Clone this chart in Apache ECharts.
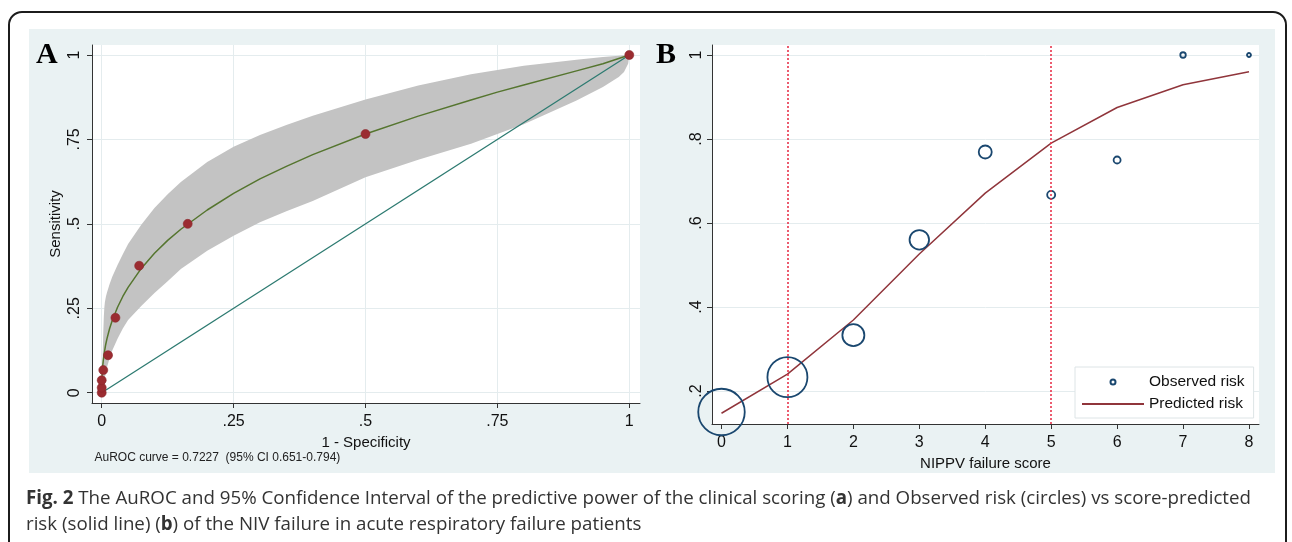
<!DOCTYPE html>
<html>
<head>
<meta charset="utf-8">
<script src="https://cdn.jsdelivr.net/npm/echarts@6/dist/echarts.min.js"></script>
<style>
html,body{margin:0;padding:0;background:#fff;}
#wrap{position:relative;width:1292px;height:542px;overflow:hidden;background:#fff;}
#frame{position:absolute;left:8px;top:11px;width:1279px;height:560px;border:2px solid #1c1c1c;border-radius:14px;box-sizing:border-box;}
#figbg{position:absolute;left:29px;top:28.5px;width:1246px;height:444.5px;background:#eaf2f3;}
#chart{position:absolute;left:0;top:0;width:1292px;height:542px;}
</style>
</head>
<body>
<div id="wrap">
<div id="frame"></div>
<div id="figbg"></div>
<div id="chart"></div>
</div>
<script>
// ---------- Panel A: ROC ----------
const rocFpr  = [0, 0, 0, 0.003, 0.012, 0.026, 0.071, 0.163, 0.5, 1];
const rocSens = [0, 0.015, 0.037, 0.067, 0.111, 0.222, 0.376, 0.5, 0.766, 1];

const fitFpr  = [0, 0.0005, 0.001, 0.002, 0.003, 0.005, 0.0075, 0.01, 0.015, 0.02, 0.03, 0.04, 0.05, 0.075, 0.1, 0.125, 0.15, 0.2, 0.25, 0.3, 0.35, 0.4, 0.5, 0.6, 0.7, 0.75, 0.8, 0.9, 0.95, 1];
const fitSens = [0, 0.044, 0.060, 0.081, 0.096, 0.119, 0.142, 0.160, 0.190, 0.214, 0.253, 0.285, 0.312, 0.368, 0.413, 0.451, 0.484, 0.541, 0.590, 0.633, 0.670, 0.705, 0.766, 0.819, 0.867, 0.890, 0.911, 0.953, 0.974, 1];

const bandFpr   = [0, 0.001, 0.002, 0.003, 0.004, 0.005, 0.006, 0.008, 0.01, 0.015, 0.02, 0.03, 0.04, 0.05, 0.075, 0.1, 0.125, 0.15, 0.2, 0.25, 0.3, 0.35, 0.4, 0.5, 0.6, 0.7, 0.8, 0.9, 0.95, 0.98, 0.99, 0.998, 1];
const bandUpper = [0, 0.06, 0.12, 0.18, 0.225, 0.252, 0.268, 0.285, 0.297, 0.322, 0.343, 0.378, 0.41, 0.44, 0.497, 0.547, 0.588, 0.624, 0.683, 0.728, 0.763, 0.793, 0.82, 0.868, 0.91, 0.943, 0.968, 0.986, 0.994, 0.998, 0.999, 1, 1];
const bandLower = [0, 0.005, 0.012, 0.02, 0.028, 0.036, 0.044, 0.06, 0.075, 0.102, 0.125, 0.16, 0.19, 0.215, 0.257, 0.295, 0.33, 0.366, 0.42, 0.465, 0.505, 0.537, 0.568, 0.638, 0.69, 0.737, 0.795, 0.865, 0.905, 0.935, 0.95, 0.975, 1];

const diagFpr  = [0, 1];
const diagSens = [0, 1];

const xTicksA = [0, 0.25, 0.5, 0.75, 1];
const yTicksA = [0, 0.25, 0.5, 0.75, 1];

// ---------- Panel B: calibration ----------
const scores        = [0, 1, 2, 3, 4, 5, 6, 7, 8];
const observedRisk  = [0.15, 0.233, 0.333, 0.56, 0.769, 0.667, 0.75, 1, 1];
const observedCircleSize = [46.5, 40, 22, 19.5, 13, 8, 7, 5.5, 4];
const predictedRisk = [0.147, 0.24, 0.369, 0.526, 0.671, 0.79, 0.875, 0.929, 0.96];
const cutoffScores  = [1, 5];

const xTicksB = [0, 1, 2, 3, 4, 5, 6, 7, 8];
const yTicksB = [0.2, 0.4, 0.6, 0.8, 1];

// ---------- helpers ----------
function stataFmt(v) {
  if (Math.abs(v) < 1e-9) return '0';
  if (Math.abs(v - 1) < 1e-9) return '1';
  return String(+v.toFixed(2)).replace(/^0\./, '.');
}
const SANS = '"Liberation Sans", Arial, sans-serif';
const AX = '#333';
const GRIDC = '#e4ecee';

function xAxisCfg(grid, min, max, ticks, name, gap) {
  return {
    gridIndex: grid, type: 'value', min: min, max: max,
    axisLine: { show: true, onZero: false, lineStyle: { color: AX, width: 1 } },
    axisTick: { show: true, length: 5, customValues: ticks, lineStyle: { color: AX, width: 1 } },
    axisLabel: { customValues: ticks, formatter: stataFmt, margin: 11, fontSize: 16, color: '#111', fontFamily: SANS },
    splitLine: { show: grid === 0, lineStyle: { color: GRIDC, width: 1 } },
    name: name, nameLocation: 'middle', nameGap: gap,
    nameTextStyle: { fontSize: 15, color: '#111', fontFamily: SANS }
  };
}
function yAxisCfg(grid, min, max, ticks, name, margin) {
  return {
    gridIndex: grid, type: 'value', min: min, max: max,
    axisLine: { show: true, onZero: false, lineStyle: { color: AX, width: 1 } },
    axisTick: { show: true, length: 5, customValues: ticks, lineStyle: { color: AX, width: 1 } },
    axisLabel: { customValues: ticks, formatter: stataFmt, rotate: 90, margin: margin, fontSize: 16, color: '#111', fontFamily: SANS },
    splitLine: { show: true, lineStyle: { color: GRIDC, width: 1 } },
    name: name, nameLocation: 'middle', nameGap: 29,
    nameTextStyle: { fontSize: 15, color: '#111', fontFamily: SANS }
  };
}

// caption fitting (horizontal scale so the line spans the same width)
const CAP_FONT = 19;
const capLine1 = [['Fig. 2', true], [' The AuROC and 95% Confidence Interval of the predictive power of the clinical scoring (', false], ['a', true], [') and Observed risk (circles) vs score-predicted', false]];
const capLine2 = [['risk (solid line) (', false], ['b', true], [') of the NIV failure in acute respiratory failure patients', false]];
function measure(parts) {
  const c = document.createElement('canvas').getContext('2d');
  let w = 0;
  parts.forEach(p => {
    c.font = (p[1] ? 'bold ' : '') + CAP_FONT + 'px "Open Sans"';
    w += c.measureText(p[0]).width;
  });
  return w;
}
function richText(parts) {
  return parts.map(p => p[1] ? '{b|' + p[0] + '}' : '{n|' + p[0] + '}').join('');
}
const capScale = 1225 / measure(capLine1);
const capRich = {
  n: { fontSize: CAP_FONT, fontFamily: '"Open Sans"', fill: '#333' },
  b: { fontSize: CAP_FONT, fontFamily: '"Open Sans"', fontWeight: 'bold', fill: '#333' }
};

const chart = echarts.init(document.getElementById('chart'), null, { renderer: 'canvas' });

const option = {
  animation: false,
  backgroundColor: 'transparent',
  grid: [
    { left: 92, top: 45, width: 548, height: 358, show: true, backgroundColor: '#fff', borderWidth: 0 },
    { left: 712, top: 45, width: 547, height: 379, show: true, backgroundColor: '#fff', borderWidth: 0 }
  ],
  xAxis: [
    xAxisCfg(0, -0.0184, 1.0203, xTicksA, '1 - Specificity', 27),
    xAxisCfg(1, -0.144, 8.152, xTicksB, 'NIPPV failure score', 27)
  ],
  yAxis: [
    yAxisCfg(0, -0.0305, 1.0296, yTicksA, 'Sensitivity', 9),
    yAxisCfg(1, 0.1214, 1.0238, yTicksB, '', 7)
  ],
  legend: {
    orient: 'vertical', left: 1075, top: 367,
    padding: [6, 9, 5, 6], itemWidth: 62, itemHeight: 5, itemGap: 4,
    backgroundColor: '#fff', borderColor: '#dde4e6', borderWidth: 1,
    selectedMode: false,
    textStyle: { fontSize: 15.5, lineHeight: 18, color: '#111', fontFamily: SANS },
    data: [
      { name: 'Observed risk' },
      { name: 'Predicted risk', itemStyle: { opacity: 0 } }
    ]
  },
  series: [
    {
      type: 'custom', name: 'CI band', xAxisIndex: 0, yAxisIndex: 0, silent: true, z: 1,
      data: bandFpr.map((x, i) => [x, bandLower[i], bandUpper[i]]),
      encode: { x: 0, y: [1, 2] },
      renderItem: function (params, api) {
        if (params.dataIndex !== 0) return null;
        const pts = [];
        for (let i = 0; i < bandFpr.length; i++) pts.push(api.coord([bandFpr[i], bandUpper[i]]));
        for (let i = bandFpr.length - 1; i >= 0; i--) pts.push(api.coord([bandFpr[i], bandLower[i]]));
        return { type: 'polygon', shape: { points: pts }, style: { fill: '#c3c3c3', stroke: null } };
      }
    },
    {
      type: 'line', name: 'Reference', xAxisIndex: 0, yAxisIndex: 0, z: 2,
      data: diagFpr.map((x, i) => [x, diagSens[i]]), symbol: 'none',
      lineStyle: { color: '#2c7a70', width: 1.3 }
    },
    {
      type: 'line', name: 'Fitted ROC', xAxisIndex: 0, yAxisIndex: 0, z: 3,
      data: fitFpr.map((x, i) => [x, fitSens[i]]), symbol: 'none',
      lineStyle: { color: '#55752f', width: 1.5 }
    },
    {
      type: 'scatter', name: 'ROC points', xAxisIndex: 0, yAxisIndex: 0, z: 4, clip: false,
      data: rocFpr.map((x, i) => [x, rocSens[i]]), symbolSize: 9,
      itemStyle: { color: '#9b2c31', borderColor: '#8c272c', borderWidth: 0.6, opacity: 1 }
    },
    {
      type: 'line', name: 'Predicted risk', xAxisIndex: 1, yAxisIndex: 1, z: 3,
      data: scores.map((x, i) => [x, predictedRisk[i]]), symbol: 'none',
      color: '#90353b',
      lineStyle: { color: '#90353b', width: 1.5 },
      markLine: {
        silent: true, symbol: 'none', label: { show: false },
        lineStyle: { color: '#e8344c', type: [2, 2], width: 1.6 },
        data: cutoffScores.map(v => ({ xAxis: v }))
      }
    },
    {
      type: 'scatter', name: 'Observed risk', xAxisIndex: 1, yAxisIndex: 1, z: 4, clip: false,
      data: scores.map((x, i) => [x, observedRisk[i]]),
      symbolSize: function (val, p) { return observedCircleSize[p.dataIndex]; },
      itemStyle: { color: 'rgba(255,255,255,0)', borderColor: '#1a476f', borderWidth: 1.8, opacity: 1 }
    }
  ],
  graphic: {
    elements: [
      { type: 'text', left: 36, top: 40, style: { text: 'A', font: 'bold 30px "Liberation Serif", "Times New Roman", serif', fill: '#000' } },
      { type: 'text', left: 656, top: 40, style: { text: 'B', font: 'bold 30px "Liberation Serif", "Times New Roman", serif', fill: '#000' } },
      { type: 'text', x: 94.5, y: 458, style: { text: 'AuROC curve = 0.7227  (95% CI 0.651-0.794)', font: '12px ' + SANS, fill: '#222', verticalAlign: 'middle', align: 'left' } },
      { type: 'text', x: 26, y: 499, scaleX: capScale, style: { text: richText(capLine1), rich: capRich, verticalAlign: 'middle', align: 'left' } },
      { type: 'text', x: 26, y: 525, scaleX: capScale, style: { text: richText(capLine2), rich: capRich, verticalAlign: 'middle', align: 'left' } }
    ]
  }
};
chart.setOption(option);
</script>
</body>
</html>
